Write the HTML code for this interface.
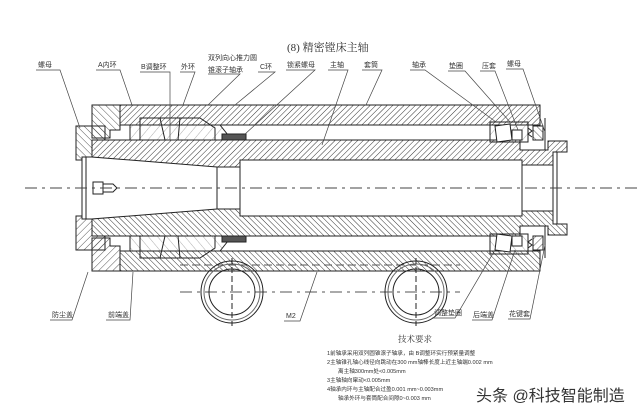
<!DOCTYPE html>
<html><head><meta charset="utf-8"><style>
html,body{margin:0;padding:0;background:#fff;width:640px;height:415px;overflow:hidden}
svg{display:block}
text{font-family:"Liberation Sans","Noto Sans CJK SC",sans-serif;fill:#333}
</style></head><body>
<svg width="640" height="415" viewBox="0 0 640 415" xmlns="http://www.w3.org/2000/svg">
<defs>
<pattern id="h" width="4" height="4" patternUnits="userSpaceOnUse" patternTransform="rotate(45)">
<line x1="0" y1="0" x2="0" y2="4" stroke="#333" stroke-width="1"/></pattern>
<pattern id="h2" width="5" height="5" patternUnits="userSpaceOnUse" patternTransform="rotate(-45)">
<line x1="0" y1="0" x2="0" y2="5" stroke="#444" stroke-width="0.9"/></pattern>
<pattern id="h3" width="7" height="7" patternUnits="userSpaceOnUse" patternTransform="rotate(40)">
<line x1="0" y1="0" x2="0" y2="7" stroke="#777" stroke-width="0.6"/></pattern>
<g id="half" stroke="#222" stroke-width="1">
  <rect x="120" y="105" width="420" height="20" fill="url(#h)"/>
  <polygon points="92,105 120,105 120,130 110,130 110,138 92,138" fill="url(#h2)"/>
  <polygon points="92,140 520,140 520,150 548,150 548,141 567,141 567,152 553,152 553,165 522,165 522,160 240,160 240,167 217,167 92,157" fill="url(#h)"/>
  <polygon points="76,126 105,126 105,140 92,140 92,157 82,157 82,160 76,160" fill="url(#h2)"/>
  <polygon points="130,125 220,125 228,135 228,140 130,140" fill="url(#h3)"/>
  <polygon points="140,118 200,118 215,128 215,140 140,140" fill="none"/>
  <line x1="160" y1="118" x2="165" y2="140"/><line x1="180" y1="118" x2="178" y2="140"/>
  <line x1="150" y1="125" x2="200" y2="125"/>
  <rect x="222" y="134" width="24" height="6" fill="#555"/>
  <rect x="490" y="122" width="38" height="20" fill="url(#h3)"/>
  <polygon points="495,126 510,124 512,140 497,142" fill="#fff"/>
  <rect x="512" y="130" width="10" height="10" fill="#fff"/>
  <path d="M528,128 l4,3 -4,3 4,3" fill="none"/>
  <rect x="533" y="126" width="10" height="14" fill="url(#h2)"/>
  <line x1="545" y1="118" x2="545" y2="150"/>
  <line x1="522" y1="165" x2="522" y2="188"/>
  <line x1="553" y1="165" x2="553" y2="188"/>
  <line x1="557" y1="152" x2="557" y2="188"/>
  <line x1="240" y1="167" x2="240" y2="188"/>
  <line x1="217" y1="167" x2="217" y2="188"/>
  <line x1="82" y1="160" x2="82" y2="188"/>
  <line x1="86" y1="157" x2="86" y2="188"/>
</g>
</defs>

<text x="287" y="51" font-size="11" style="font-family:'Liberation Serif','Noto Serif CJK SC',serif" fill="#444">(8) 精密镗床主轴</text>

<use href="#half"/>
<use href="#half" transform="translate(0,376) scale(1,-1)"/>

<line x1="180" y1="265" x2="460" y2="265" stroke="#555" stroke-dasharray="8,4"/>
<rect x="93" y="182" width="10" height="12" fill="#fff" stroke="#222"/>
<polygon points="103,184 113,184 117,188 113,192 103,192" fill="#fff" stroke="#222"/>

<line x1="25" y1="188" x2="640" y2="188" stroke="#444" stroke-dasharray="12,5,3,5"/>
<line x1="180" y1="292" x2="460" y2="292" stroke="#555" stroke-dasharray="12,5,3,5"/>

<g fill="none" stroke="#222">
<circle cx="232" cy="292" r="31"/><circle cx="232" cy="292" r="28" stroke="#666"/><circle cx="232" cy="292" r="23"/>
<circle cx="416" cy="292" r="31"/><circle cx="416" cy="292" r="28" stroke="#666"/><circle cx="416" cy="292" r="23"/>
<line x1="232" y1="258" x2="232" y2="326" stroke-dasharray="6,3"/>
<line x1="416" y1="258" x2="416" y2="326" stroke-dasharray="6,3"/>
</g>

<g font-size="7">
<text x="38" y="67">螺母</text><text x="98" y="67">A内环</text><text x="141" y="69">B调整环</text>
<text x="181" y="69">外环</text><text x="208" y="60">双列向心推力圆</text><text x="208" y="72">锥滚子轴承</text>
<text x="260" y="69">C环</text><text x="287" y="67">锁紧螺母</text><text x="330" y="67">主轴</text>
<text x="364" y="67">套筒</text><text x="412" y="67">轴承</text><text x="449" y="68">垫圈</text>
<text x="482" y="68">压套</text><text x="507" y="66">螺母</text>
<text x="52" y="317">防尘盖</text><text x="108" y="317">前端盖</text><text x="286" y="318">M2</text>
<text x="434" y="315">调整垫圈</text><text x="473" y="317">后端盖</text><text x="509" y="316">花键套</text>
</g>
<g stroke="#444" stroke-width="0.7" fill="none">
<path d="M36,70 H60 L80,128"/><path d="M96,70 H120 L132,105"/><path d="M140,72 H170 V140"/>
<path d="M180,72 H195 L183,105"/><path d="M208,74 H240 L208,105"/><path d="M258,72 H275 L235,105"/>
<path d="M286,70 H315 L244,135"/><path d="M328,70 H348 L322,145"/><path d="M362,70 H382 L366,105"/>
<path d="M410,70 H425 L496,122"/><path d="M448,71 H465 L510,122"/><path d="M480,71 H495 L518,130"/>
<path d="M506,69 H523 L545,132"/>
<path d="M50,320 H72 L88,272"/><path d="M106,320 H130 L133,272"/><path d="M284,321 H300 L317,272"/>
<path d="M432,318 H455 L495,250"/><path d="M472,320 H492 L515,250"/><path d="M508,319 H530 L545,245"/>
</g>

<text x="398" y="342" font-size="8.5" style="font-family:'Liberation Serif','Noto Serif CJK SC',serif">技术要求</text>
<g font-size="5.6">
<text x="327" y="355">1前轴承采用双列圆锥滚子轴承，由 B调整环实行预紧量调整</text>
<text x="327" y="364">2主轴锥孔轴心线径向跳动在300 mm轴棒长度上近主轴端0.002 mm</text>
<text x="338" y="373">离主轴300mm处&lt;0.005mm</text>
<text x="327" y="382">3主轴轴向窜动&lt;0.005mm</text>
<text x="327" y="391">4轴承内环与主轴配合过盈0.001 mm~0.003mm</text>
<text x="338" y="400">轴承外环与套筒配合间隙0~0.003 mm</text>
</g>
<text x="476" y="401" font-size="16" fill="#333">头条 @科技智能制造</text>
</svg>
</body></html>
